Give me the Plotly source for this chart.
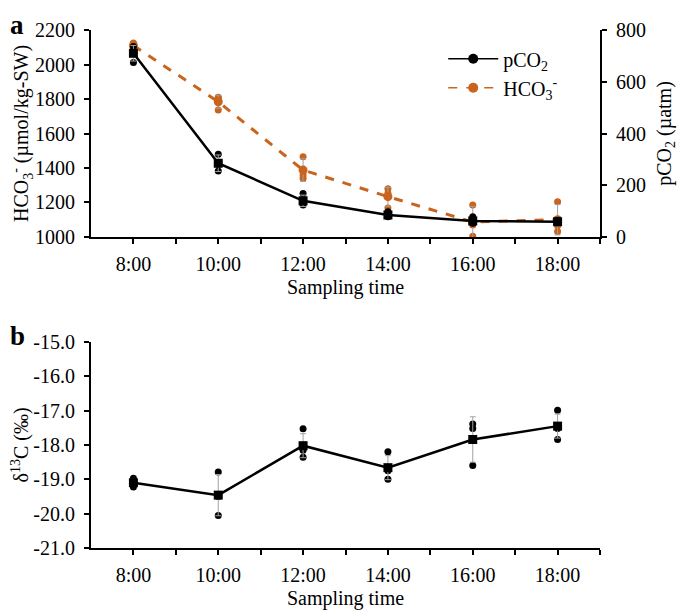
import plotly.graph_objects as go

# ---------------- data ----------------
hours = [8, 10, 12, 14, 16, 18]
tick_vals = [8, 9, 10, 11, 12, 13, 14, 15, 16, 17, 18, 19]
tick_text = ["8:00", "", "10:00", "", "12:00", "", "14:00", "", "16:00", "", "18:00", ""]
d13c_tick_vals = [-21, -20, -19, -18, -17, -16, -15]
d13c_tick_text = ["-21.0", "-20.0", "-19.0", "-18.0", "-17.0", "-16.0", "-15.0"]

# pCO2 (µatm), right axis of panel a
pco2_mean = [710, 285, 140, 85, 62, 59]
pco2_sd = [30, 32, 22, 10, 12, 5]
pco2_rep1 = [674, 320, 168, 98, 78, 65]
pco2_rep2 = [720, 255, 124, 78, 55, 55]
pco2_rep3 = [736, 280, 130, 80, 53, 57]

# HCO3- (µmol/kg-SW), left axis of panel a
hco3_mean = [2110, 1784, 1388, 1234, 1087, 1100]
hco3_sd = [10, 38, 66, 55, 90, 88]
hco3_rep1 = [2125, 1810, 1465, 1280, 1185, 1205]
hco3_rep2 = [2105, 1736, 1359, 1168, 1070, 1065]
hco3_rep3 = [2100, 1806, 1340, 1254, 1005, 1032]

# delta 13C (permil), panel b
d13c_mean = [-19.10, -19.46, -18.02, -18.66, -17.84, -17.45]
d13c_sd = [0.10, 0.60, 0.35, 0.35, 0.66, 0.35]
d13c_rep1 = [-18.97, -18.79, -17.53, -18.20, -17.39, -16.99]
d13c_rep2 = [-19.12, -20.05, -18.36, -19.00, -17.52, -17.52]
d13c_rep3 = [-19.22, -19.50, -18.15, -18.75, -18.60, -17.84]

ORANGE = "#C9641C"
BLACK = "#000000"
GRAY = "#A0A0A0"
FONT = "Liberation Serif"
FS = 20

fig = go.Figure()

# ---- panel a: pCO2 (right axis) ----
for rep in (pco2_rep1, pco2_rep2, pco2_rep3):
    fig.add_trace(go.Scatter(x=hours, y=rep, mode="markers", xaxis="x", yaxis="y2",
                             marker=dict(symbol="circle", size=7, color=BLACK),
                             showlegend=False, hoverinfo="skip"))
fig.add_trace(go.Scatter(x=hours, y=pco2_mean, mode="lines+markers", xaxis="x", yaxis="y2",
                         line=dict(color=BLACK, width=2.5),
                         marker=dict(symbol="square", size=9, color=BLACK),
                         error_y=dict(type="data", array=pco2_sd, color=GRAY, thickness=1, width=3),
                         showlegend=False))

# ---- panel a: HCO3- (left axis) ----
for rep in (hco3_rep1, hco3_rep2, hco3_rep3):
    fig.add_trace(go.Scatter(x=hours, y=rep, mode="markers", xaxis="x", yaxis="y",
                             marker=dict(symbol="circle", size=7, color=ORANGE),
                             showlegend=False, hoverinfo="skip"))
fig.add_trace(go.Scatter(x=hours, y=hco3_mean, mode="lines+markers", xaxis="x", yaxis="y",
                         line=dict(color=ORANGE, width=3, dash="dash"),
                         marker=dict(symbol="circle", size=9, color=ORANGE),
                         error_y=dict(type="data", array=hco3_sd, color=GRAY, thickness=1, width=3),
                         showlegend=False))

# legend entries
fig.add_trace(go.Scatter(x=[None], y=[None], mode="lines+markers", name="pCO<sub>2</sub>",
                         xaxis="x", yaxis="y", line=dict(color=BLACK, width=1.5),
                         marker=dict(symbol="circle", size=10, color=BLACK)))
fig.add_trace(go.Scatter(x=[None], y=[None], mode="lines+markers", name="HCO<sub>3</sub><sup>-</sup>",
                         xaxis="x", yaxis="y", line=dict(color=ORANGE, width=1.5, dash="dash"),
                         marker=dict(symbol="circle", size=10, color=ORANGE)))

# ---- panel b ----
for rep in (d13c_rep1, d13c_rep2, d13c_rep3):
    fig.add_trace(go.Scatter(x=hours, y=rep, mode="markers", xaxis="x2", yaxis="y3",
                             marker=dict(symbol="circle", size=7, color=BLACK),
                             showlegend=False, hoverinfo="skip"))
fig.add_trace(go.Scatter(x=hours, y=d13c_mean, mode="lines+markers", xaxis="x2", yaxis="y3",
                         line=dict(color=BLACK, width=2.5),
                         marker=dict(symbol="square", size=9, color=BLACK),
                         error_y=dict(type="data", array=d13c_sd, color=GRAY, thickness=1, width=3),
                         showlegend=False))

axis_common = dict(showline=True, linecolor=BLACK, linewidth=2, ticks="outside",
                   ticklen=5, tickwidth=2, tickcolor=BLACK, showgrid=False, zeroline=False,
                   automargin=False,
                   tickfont=dict(family=FONT, size=FS, color=BLACK))

# page body adds an 8px offset, so the figure is 677x604 placed at (8,8)
fig.update_layout(
    width=677, height=604,
    margin=dict(l=83, r=85, t=22, b=64),
    paper_bgcolor="white", plot_bgcolor="white",
    font=dict(family=FONT, size=FS, color=BLACK),
    showlegend=True,
    legend=dict(x=0.692, y=0.982, xanchor="left", yanchor="top",
                bgcolor="rgba(0,0,0,0)", font=dict(family=FONT, size=FS),
                tracegroupgap=7, itemwidth=50),
    xaxis=dict(domain=[0, 1], range=[7, 19], tickvals=tick_vals, ticktext=tick_text,
               anchor="y", ticklabelstandoff=3,
               title=dict(text="Sampling time", font=dict(family=FONT, size=FS), standoff=6),
               **axis_common),
    yaxis=dict(domain=[0.6004, 1], range=[1000, 2200], dtick=200, anchor="x",
               ticklabelstandoff=5,
               title=dict(text="HCO<sub>3</sub><sup>-</sup> (µmol/kg-SW)", font=dict(family=FONT, size=FS), standoff=6),
               **axis_common),
    yaxis2=dict(range=[0, 800], dtick=200, overlaying="y", side="right", anchor="x",
                ticklabelstandoff=5,
                title=dict(text="pCO<sub>2</sub> (µatm)", font=dict(family=FONT, size=FS), standoff=12),
                **axis_common),
    xaxis2=dict(domain=[0, 1], range=[7, 19], tickvals=tick_vals, ticktext=tick_text,
                anchor="y3", ticklabelstandoff=3,
                title=dict(text="Sampling time", font=dict(family=FONT, size=FS), standoff=6),
                **axis_common),
    yaxis3=dict(domain=[0, 0.3977], range=[-21, -15], tickvals=d13c_tick_vals, ticktext=d13c_tick_text,
                anchor="x2", ticklabelstandoff=5,
                title=dict(text="δ<sup>13</sup>C (‰)", font=dict(family=FONT, size=FS), standoff=6),
                **axis_common),
    annotations=[
        dict(text="<b>a</b>", x=0.0, y=1.0, xref="paper", yref="paper", xanchor="left", yanchor="top",
             xshift=-83, yshift=22, showarrow=False, font=dict(family=FONT, size=27)),
        dict(text="<b>b</b>", x=0.0, y=0.3977, xref="paper", yref="paper", xanchor="left", yanchor="top",
             xshift=-83, yshift=23, showarrow=False, font=dict(family=FONT, size=27)),
    ],
)

fig.write_html("out.html")
